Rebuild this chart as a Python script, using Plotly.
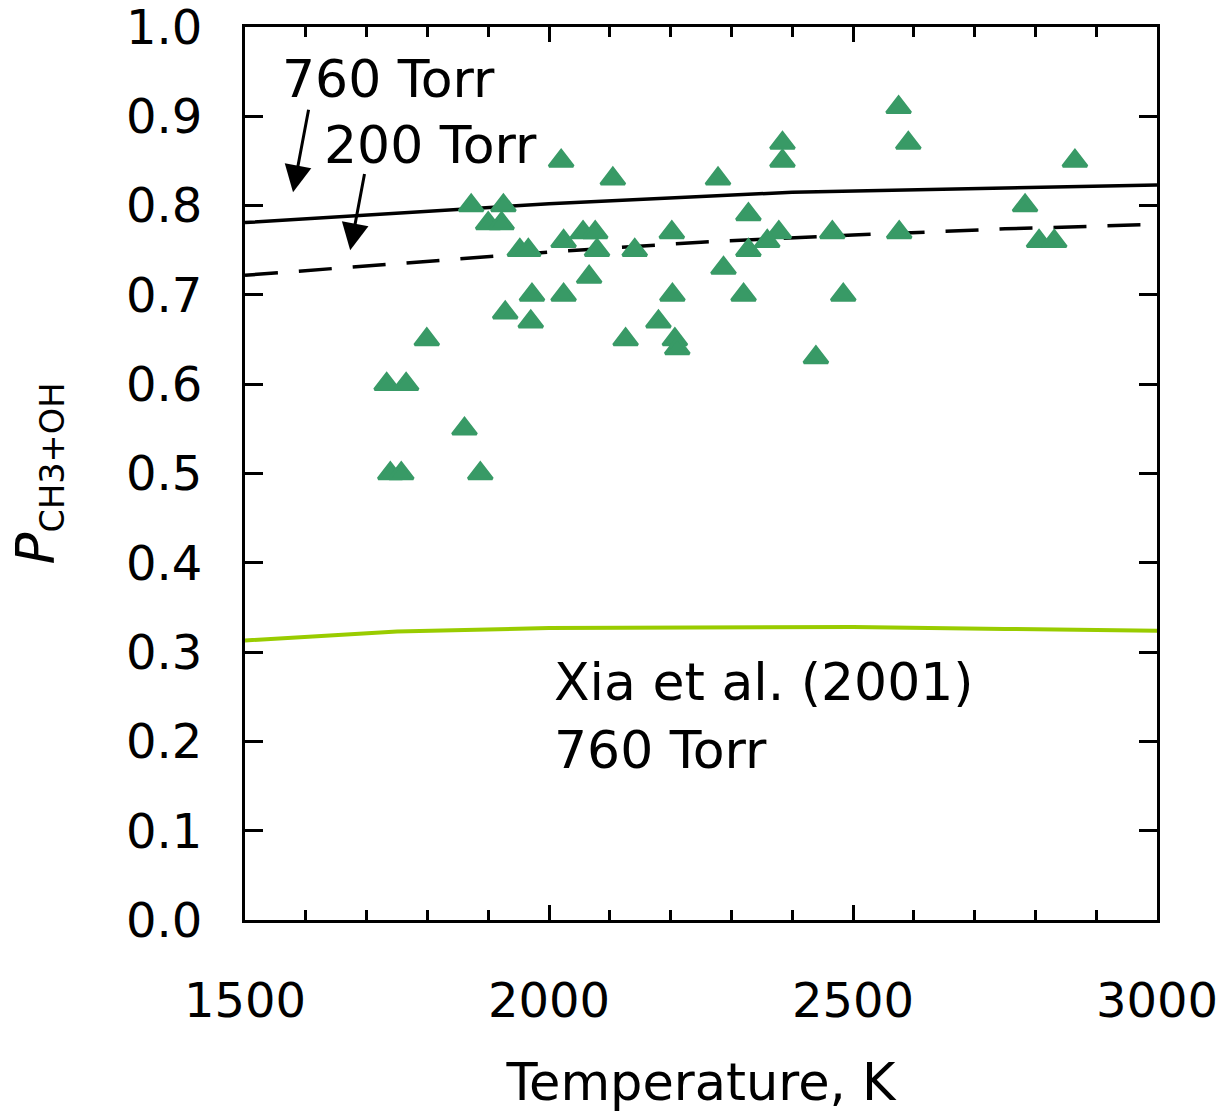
import plotly.graph_objects as go

# Measured branching fraction for CH3 + OH (shock-tube data)
temp_obs = [2020, 2105, 1872, 1925, 1900, 1922, 2202, 2056, 2076, 2024,
            1952, 1966, 2079, 2141, 2066, 1972, 2024, 2203, 1928, 1970,
            2180, 1799, 2126, 2207, 2211, 1733, 1765, 1861, 1739, 1757,
            1887, 2575, 2591, 2384, 2384, 2865, 2278, 2783, 2328, 2328,
            2378, 2466, 2576, 2359, 2806, 2831, 2287, 2320, 2484, 2439]
p_obs = [0.85, 0.83, 0.80, 0.80, 0.78, 0.78, 0.77, 0.77, 0.77, 0.76,
         0.75, 0.75, 0.75, 0.75, 0.72, 0.70, 0.70, 0.70, 0.68, 0.67,
         0.67, 0.65, 0.65, 0.65, 0.64, 0.60, 0.60, 0.55, 0.50, 0.50,
         0.50, 0.91, 0.87, 0.87, 0.85, 0.85, 0.83, 0.80, 0.79, 0.75,
         0.77, 0.77, 0.77, 0.76, 0.76, 0.76, 0.73, 0.70, 0.70, 0.63]

# Model predictions
temp_760 = [1500, 2000, 2400, 3000]
p_760 = [0.781, 0.802, 0.815, 0.823]

temp_200 = [1500, 1750, 2000, 2250, 2500, 2750, 3000]
p_200 = [0.722, 0.735, 0.748, 0.759, 0.767, 0.774, 0.779]

temp_xia = [1500, 1750, 2000, 2250, 2500, 2750, 3000]
p_xia = [0.313, 0.323, 0.327, 0.328, 0.328, 0.326, 0.324]

# Axis ticks
x_ticks = [1500, 2000, 2500, 3000]
y_ticks = [0.0, 0.1, 0.2, 0.3, 0.4, 0.5, 0.6, 0.7, 0.8, 0.9, 1.0]
y_tick_text = ["0.0", "0.1", "0.2", "0.3", "0.4", "0.5", "0.6", "0.7", "0.8", "0.9", "1.0"]

FONT = "DejaVu Sans"
FS = 48
FS_NOTE = 52

fig = go.Figure()

fig.add_trace(go.Scatter(
    x=temp_xia, y=p_xia, mode="lines",
    line=dict(color="#99cc00", width=4), showlegend=False))
fig.add_trace(go.Scatter(
    x=temp_200, y=p_200, mode="lines",
    line=dict(color="black", width=3.5, dash="33px,21px"), showlegend=False))
fig.add_trace(go.Scatter(
    x=temp_760, y=p_760, mode="lines",
    line=dict(color="black", width=3.5), showlegend=False))
fig.add_trace(go.Scatter(
    x=temp_obs, y=p_obs, mode="markers",
    marker=dict(symbol="triangle-up", size=21, color="#389a66",
                line=dict(color="#389a66", width=3)),
    showlegend=False))

note_font = dict(family=FONT, size=FS_NOTE, color="black")

# Curve labels
fig.add_annotation(x=1557, y=0.942, xref="x", yref="y", text="760 Torr",
                   showarrow=False, xanchor="left", yanchor="middle", font=note_font)
fig.add_annotation(x=1627, y=0.868, xref="x", yref="y", text="200 Torr",
                   showarrow=False, xanchor="left", yanchor="middle", font=note_font)
fig.add_annotation(x=2005, y=0.228, xref="x", yref="y",
                   text="Xia et al. (2001)<br>760 Torr", align="left",
                   showarrow=False, xanchor="left", yanchor="middle", font=note_font)

# Pointer arrows
for tip, tail in [((1579, 0.815), (1605, 0.909)), ((1673, 0.750), (1697, 0.837))]:
    fig.add_annotation(x=tip[0], y=tip[1], ax=tail[0], ay=tail[1],
                       xref="x", yref="y", axref="x", ayref="y", text="",
                       showarrow=True, arrowhead=2, arrowsize=1.8,
                       arrowwidth=3, arrowcolor="black")

fig.update_xaxes(
    range=[1500, 3000], tickmode="array", tickvals=x_ticks,
    ticks="inside", ticklen=15, tickwidth=3, tickcolor="black",
    minor=dict(dtick=100, ticks="inside", ticklen=10, tickwidth=3, tickcolor="black"),
    showline=True, linewidth=3, linecolor="black", mirror="allticks",
    showgrid=False, zeroline=False, ticklabelstandoff=36, automargin=False,
    ticklabeloverflow="allow",
    tickfont=dict(family=FONT, size=FS, color="black"),
    title=dict(text="Temperature, K", font=dict(family=FONT, size=51, color="black"),
               standoff=38),
)
fig.update_yaxes(
    range=[0, 1.0], tickmode="array", tickvals=y_ticks, ticktext=y_tick_text,
    ticks="inside", ticklen=18, tickwidth=3, tickcolor="black",
    showline=True, linewidth=3, linecolor="black", mirror="allticks",
    showgrid=False, zeroline=False, ticklabelstandoff=30, automargin=False,
    ticklabeloverflow="allow",
    tickfont=dict(family=FONT, size=FS, color="black"),
    title=dict(text="<i>P</i><span style='font-size:48px'><sub>CH3+OH</sub></span>",
               font=dict(family=FONT, size=53, color="black"), standoff=55),
)

fig.update_layout(
    width=1226, height=1112,
    margin=dict(l=245, r=69, t=27, b=192),
    paper_bgcolor="white", plot_bgcolor="white",
    font=dict(family=FONT, color="black"),
)

fig.write_html("out.html")
